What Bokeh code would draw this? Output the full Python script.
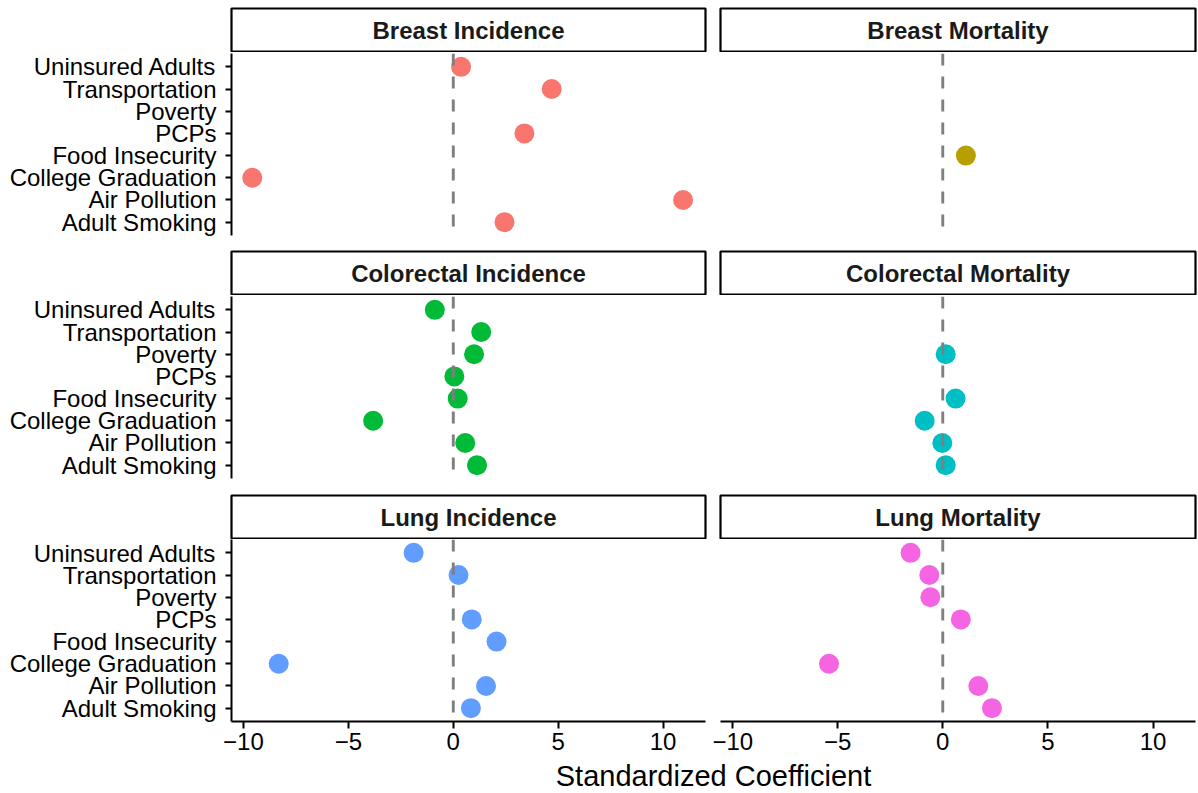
from bokeh.plotting import figure
from bokeh.models import FactorRange, Range1d, Span, FixedTicker, ColumnDataSource
from bokeh.layouts import column, row
from bokeh.embed import file_html
from bokeh.resources import INLINE
from bokeh.core.properties import value

# ---------------- data ----------------
factors_top_to_bottom = ["Uninsured Adults", "Transportation", "Poverty", "PCPs",
                         "Food Insecurity", "College Graduation", "Air Pollution",
                         "Adult Smoking"]

breast_incidence = [0.37, 4.69, None, 3.39, None, -9.58, 10.95, 2.44]
breast_mortality = [None, None, None, None, 1.10, None, None, None]
colorectal_incidence = [-0.88, 1.33, 0.99, 0.05, 0.21, -3.82, 0.57, 1.13]
colorectal_mortality = [None, None, 0.14, None, 0.61, -0.86, -0.02, 0.14]
lung_incidence = [-1.89, 0.25, None, 0.88, 2.06, -8.32, 1.56, 0.84]
lung_mortality = [-1.53, -0.64, -0.59, 0.86, None, -5.41, 1.69, 2.34]

panel_titles = ["Breast Incidence", "Breast Mortality",
                "Colorectal Incidence", "Colorectal Mortality",
                "Lung Incidence", "Lung Mortality"]
panel_values = [breast_incidence, breast_mortality,
                colorectal_incidence, colorectal_mortality,
                lung_incidence, lung_mortality]
panel_colors = ["#F8766D", "#B79F00", "#00BA38", "#00BFC4", "#619CFF", "#F564E3"]

x_ticks = [-10, -5, 0, 5, 10]
x_tick_labels = ["\u221210", "\u22125", "0", "5", "10"]
x_title = "Standardized Coefficient"

# ---------------- style ----------------
FONT = "Liberation Sans"
TICK_FS = "24px"
STRIP_FS = "24px"
TITLE_FS = "29px"
X_START, X_END = -10.57, 12.02

LEFT_W, LEFT_BL, LEFT_BR = 712, 231, 7
RIGHT_W, RIGHT_BL, RIGHT_BR = 486, 8, 3
FRAME_H = 182


def strip(title, left_col, top_border, height):
    w = LEFT_W if left_col else RIGHT_W
    p = figure(width=w, height=height, output_backend="svg", toolbar_location=None,
               x_range=Range1d(0, 1), y_range=Range1d(0, 1),
               x_axis_location=None, y_axis_location=None,
               min_border_left=LEFT_BL if left_col else RIGHT_BL,
               min_border_right=LEFT_BR if left_col else RIGHT_BR,
               min_border_top=top_border, min_border_bottom=1)
    p.grid.visible = False
    p.outline_line_color = "black"
    p.outline_line_width = 2.2
    p.background_fill_color = "white"
    src = ColumnDataSource(dict(x=[0.5], y=[0.5], t=[title]))
    p.text(x="x", y="y", text="t", source=src, text_align="center",
           text_baseline="middle", text_font=value(FONT), text_font_size=STRIP_FS,
           text_font_style="bold", text_color="#1A1A1A")
    return p


def panel(vals, color, left_col, bottom_row, top_border, bottom_border):
    w = LEFT_W if left_col else RIGHT_W
    h = top_border + FRAME_H + bottom_border
    p = figure(width=w, height=h, output_backend="svg", toolbar_location=None,
               x_range=Range1d(X_START, X_END),
               y_range=FactorRange(factors=factors_top_to_bottom[::-1],
                                   range_padding=0.025),
               x_axis_location="below" if bottom_row else None,
               y_axis_location="left" if left_col else None,
               min_border_left=LEFT_BL if left_col else RIGHT_BL,
               min_border_right=LEFT_BR if left_col else RIGHT_BR,
               min_border_top=top_border, min_border_bottom=bottom_border)
    p.grid.visible = False
    p.outline_line_color = None
    xs = [v for v in vals if v is not None]
    ys = [f for f, v in zip(factors_top_to_bottom, vals) if v is not None]
    src = ColumnDataSource(dict(x=xs, y=ys))
    p.scatter(x="x", y="y", source=src, size=20, fill_color=color, line_color=None)
    p.add_layout(Span(location=0, dimension="height", line_color="#7F7F7F",
                      line_width=2.9, line_dash="12 11"))
    if left_col:
        ax = p.yaxis[0]
        ax.axis_line_width = 2
        ax.axis_line_color = "black"
        ax.major_tick_line_width = 2
        ax.major_tick_line_color = "black"
        ax.major_tick_out = 6
        ax.major_tick_in = 0
        ax.major_label_standoff = 9
        ax.major_label_text_font = FONT
        ax.major_label_text_font_size = TICK_FS
        ax.major_label_text_color = "black"
    if bottom_row:
        ax = p.xaxis[0]
        ax.ticker = FixedTicker(ticks=x_ticks)
        ax.major_label_overrides = {t: l for t, l in zip(x_ticks, x_tick_labels)}
        ax.axis_line_width = 2
        ax.axis_line_color = "black"
        ax.major_tick_line_width = 2
        ax.major_tick_line_color = "black"
        ax.major_tick_out = 7
        ax.major_tick_in = 0
        ax.minor_tick_line_color = None
        ax.major_label_standoff = 4
        ax.major_label_text_font = FONT
        ax.major_label_text_font_size = TICK_FS
        ax.major_label_text_color = "black"
    return p


rows = []
strip_tops = [8, 1, 1]
strip_heights = [52, 45, 45]
panel_tops = [1, 1, 0]
panel_bottoms = [15, 16, 37]
for r in range(3):
    i_l, i_r = 2 * r, 2 * r + 1
    rows.append(row(strip(panel_titles[i_l], True, strip_tops[r], strip_heights[r]),
                    strip(panel_titles[i_r], False, strip_tops[r], strip_heights[r])))
    rows.append(row(
        panel(panel_values[i_l], panel_colors[i_l], True, r == 2,
              panel_tops[r], panel_bottoms[r]),
        panel(panel_values[i_r], panel_colors[i_r], False, r == 2,
              panel_tops[r], panel_bottoms[r])))

TW, TH = LEFT_W + RIGHT_W, 34
tp = figure(width=TW, height=TH, output_backend="svg", toolbar_location=None,
            x_range=Range1d(0, TW), y_range=Range1d(0, TH),
            x_axis_location=None, y_axis_location=None,
            min_border=0)
tp.grid.visible = False
tp.outline_line_color = None
tsrc = ColumnDataSource(dict(x=[713], y=[TH - 17.5], t=[x_title]))
tp.text(x="x", y="y", text="t", source=tsrc, text_align="center",
        text_baseline="middle", text_font=value(FONT), text_font_size=TITLE_FS,
        text_color="black")
rows.append(tp)

layout = column(*rows)
open("out.html", "w").write(file_html(layout, INLINE))
